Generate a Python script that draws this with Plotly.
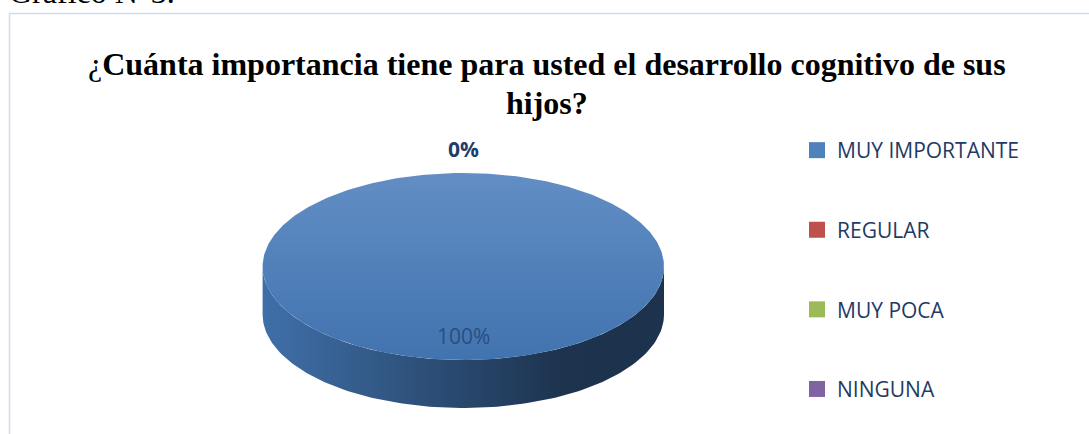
import colorsys
import numpy as np
import plotly.graph_objects as go

# ---------------- data ----------------
categories = ["MUY IMPORTANTE", "REGULAR", "MUY POCA", "NINGUNA"]
values = [100, 0, 0, 0]
colors = ["#4f81bd", "#c0504d", "#9bbb59", "#8064a2"]
title_line1 = "Cuánta importancia tiene para usted el desarrollo cognitivo de sus"
title_line2 = "hijos?"
caption = "Gráfico N°3."

# ---------------- layout constants (pixels) ----------------
W, H = 1089, 434
CX, CY, RX, RY, DEPTH = 463.3, 266.5, 200.7, 93.5, 48


def hex2rgb(h):
    h = h.lstrip("#")
    return tuple(int(h[i:i + 2], 16) for i in (0, 2, 4))


def shade(hexcol, dl):
    r, g, b = [c / 255 for c in hex2rgb(hexcol)]
    hh, ll, ss = colorsys.rgb_to_hls(r, g, b)
    ll = min(max(ll + dl, 0), 1)
    r, g, b = colorsys.hls_to_rgb(hh, ll, ss)
    return "rgb(%d,%d,%d)" % (round(r * 255), round(g * 255), round(b * 255))


def arc(t0, t1, dy=0.0, n=None):
    if n is None:
        n = max(int(abs(t1 - t0) / 1.5) + 2, 2)
    t = np.radians(np.linspace(t0, t1, n))
    return CX + RX * np.sin(t), CY - RY * np.cos(t) + dy


fig = go.Figure()

total = float(sum(values))
slices = []
acc = 0.0
for cat, v, col in zip(categories, values, colors):
    a0 = acc
    a1 = acc + 360.0 * v / total
    acc = a1
    slices.append((cat, v, col, a0, a1))

# side walls (front half only: angles 90..270 measured clockwise from top)
for cat, v, col, a0, a1 in slices:
    s0, s1 = max(a0, 90.0), min(a1, 270.0)
    if v <= 0 or s1 <= s0:
        continue
    xt, yt = arc(s0, s1)
    xb, yb = arc(s1, s0, DEPTH)
    xs = np.concatenate([xt, xb, xt[:1]])
    ys = np.concatenate([yt, yb, yt[:1]])
    fig.add_trace(go.Scatter(
        x=xs, y=ys, mode="lines", fill="toself", line=dict(width=0),
        fillcolor=shade(col, -0.2),
        fillgradient=dict(type="horizontal", start=CX - RX, stop=CX + RX,
                          colorscale=[[0, shade(col, -0.07)], [0.25, shade(col, -0.15)],
                                      [0.5, shade(col, -0.235)], [0.75, shade(col, -0.315)],
                                      [1, shade(col, -0.32)]]),
        hoverinfo="skip", showlegend=False))

# top faces
for cat, v, col, a0, a1 in slices:
    if v <= 0:
        continue
    if a1 - a0 >= 359.999:
        xs, ys = arc(0, 360, n=400)
    else:
        xa, ya = arc(a0, a1)
        xs = np.concatenate([[CX], xa, [CX]])
        ys = np.concatenate([[CY], ya, [CY]])
    fig.add_trace(go.Scatter(
        x=xs, y=ys, mode="lines", fill="toself", line=dict(width=0),
        fillcolor=col,
        fillgradient=dict(type="vertical", start=CY - RY, stop=CY + RY,
                          colorscale=[[0, shade(col, 0.05)], [1, shade(col, -0.055)]]),
        hoverinfo="skip", showlegend=False))

# data labels
annotations = []
seen = set()
for cat, v, col, a0, a1 in slices:
    pct = "%d%%" % round(100 * v / total)
    if v > 0:
        m = np.radians((a0 + a1) / 2)
        lx, ly = CX + 0.74 * RX * np.sin(m), CY - 0.74 * RY * np.cos(m)
        font = dict(family="Open Sans", size=21, color="#2a4e80")
        txt = pct
    else:
        m = np.radians(a0)
        lx, ly = CX + (RX + 24) * np.sin(m), CY - (RY + 24) * np.cos(m)
        font = dict(family="Open Sans", size=21, color="#1f3d6c")
        txt = "<b>%s</b>" % pct
    key = (round(lx), round(ly))
    if key in seen:
        continue
    seen.add(key)
    annotations.append(dict(x=lx, y=ly, xref="x", yref="y", text=txt, showarrow=False,
                            font=font, xanchor="center", yanchor="middle"))

# legend entries
for cat, col in zip(categories, colors):
    fig.add_trace(go.Scatter(
        x=[None], y=[None], mode="markers", name=cat, legendgroup=cat,
        marker=dict(symbol="square", size=16, color=col, line=dict(width=0))))

# title & caption
annotations.append(dict(x=547, y=64, xref="x", yref="y", showarrow=False,
                        text="¿<b>%s</b>" % title_line1, xanchor="center", yanchor="middle",
                        font=dict(family="Liberation Serif", size=32, color="#000000")))
annotations.append(dict(x=547, y=103, xref="x", yref="y", showarrow=False,
                        text="<b>%s</b>" % title_line2, xanchor="center", yanchor="middle",
                        font=dict(family="Liberation Serif", size=32, color="#000000")))
annotations.append(dict(x=7, y=12, xref="x", yref="y", showarrow=False,
                        text=caption, xanchor="left", yanchor="bottom",
                        font=dict(family="Liberation Serif", size=32, color="#000000")))

fig.update_layout(
    width=W, height=H,
    margin=dict(l=0, r=0, t=0, b=0, pad=0),
    paper_bgcolor="white", plot_bgcolor="white",
    xaxis=dict(range=[0, W], visible=False, fixedrange=True),
    yaxis=dict(range=[H, 0], visible=False, fixedrange=True),
    showlegend=True,
    legend=dict(x=797 / W, y=1 - 130 / H, xanchor="left", yanchor="top",
                font=dict(family="Open Sans", size=21, color="#1f3a64"),
                tracegroupgap=49.3, bgcolor="rgba(0,0,0,0)", borderwidth=0),
    annotations=annotations,
    shapes=[dict(type="rect", xref="x", yref="y", x0=9.5, y0=13.5, x1=1100, y1=450,
                 line=dict(color="#cfdcee", width=1.5), fillcolor="rgba(0,0,0,0)", layer="below")],
)

fig.write_html("out.html")
